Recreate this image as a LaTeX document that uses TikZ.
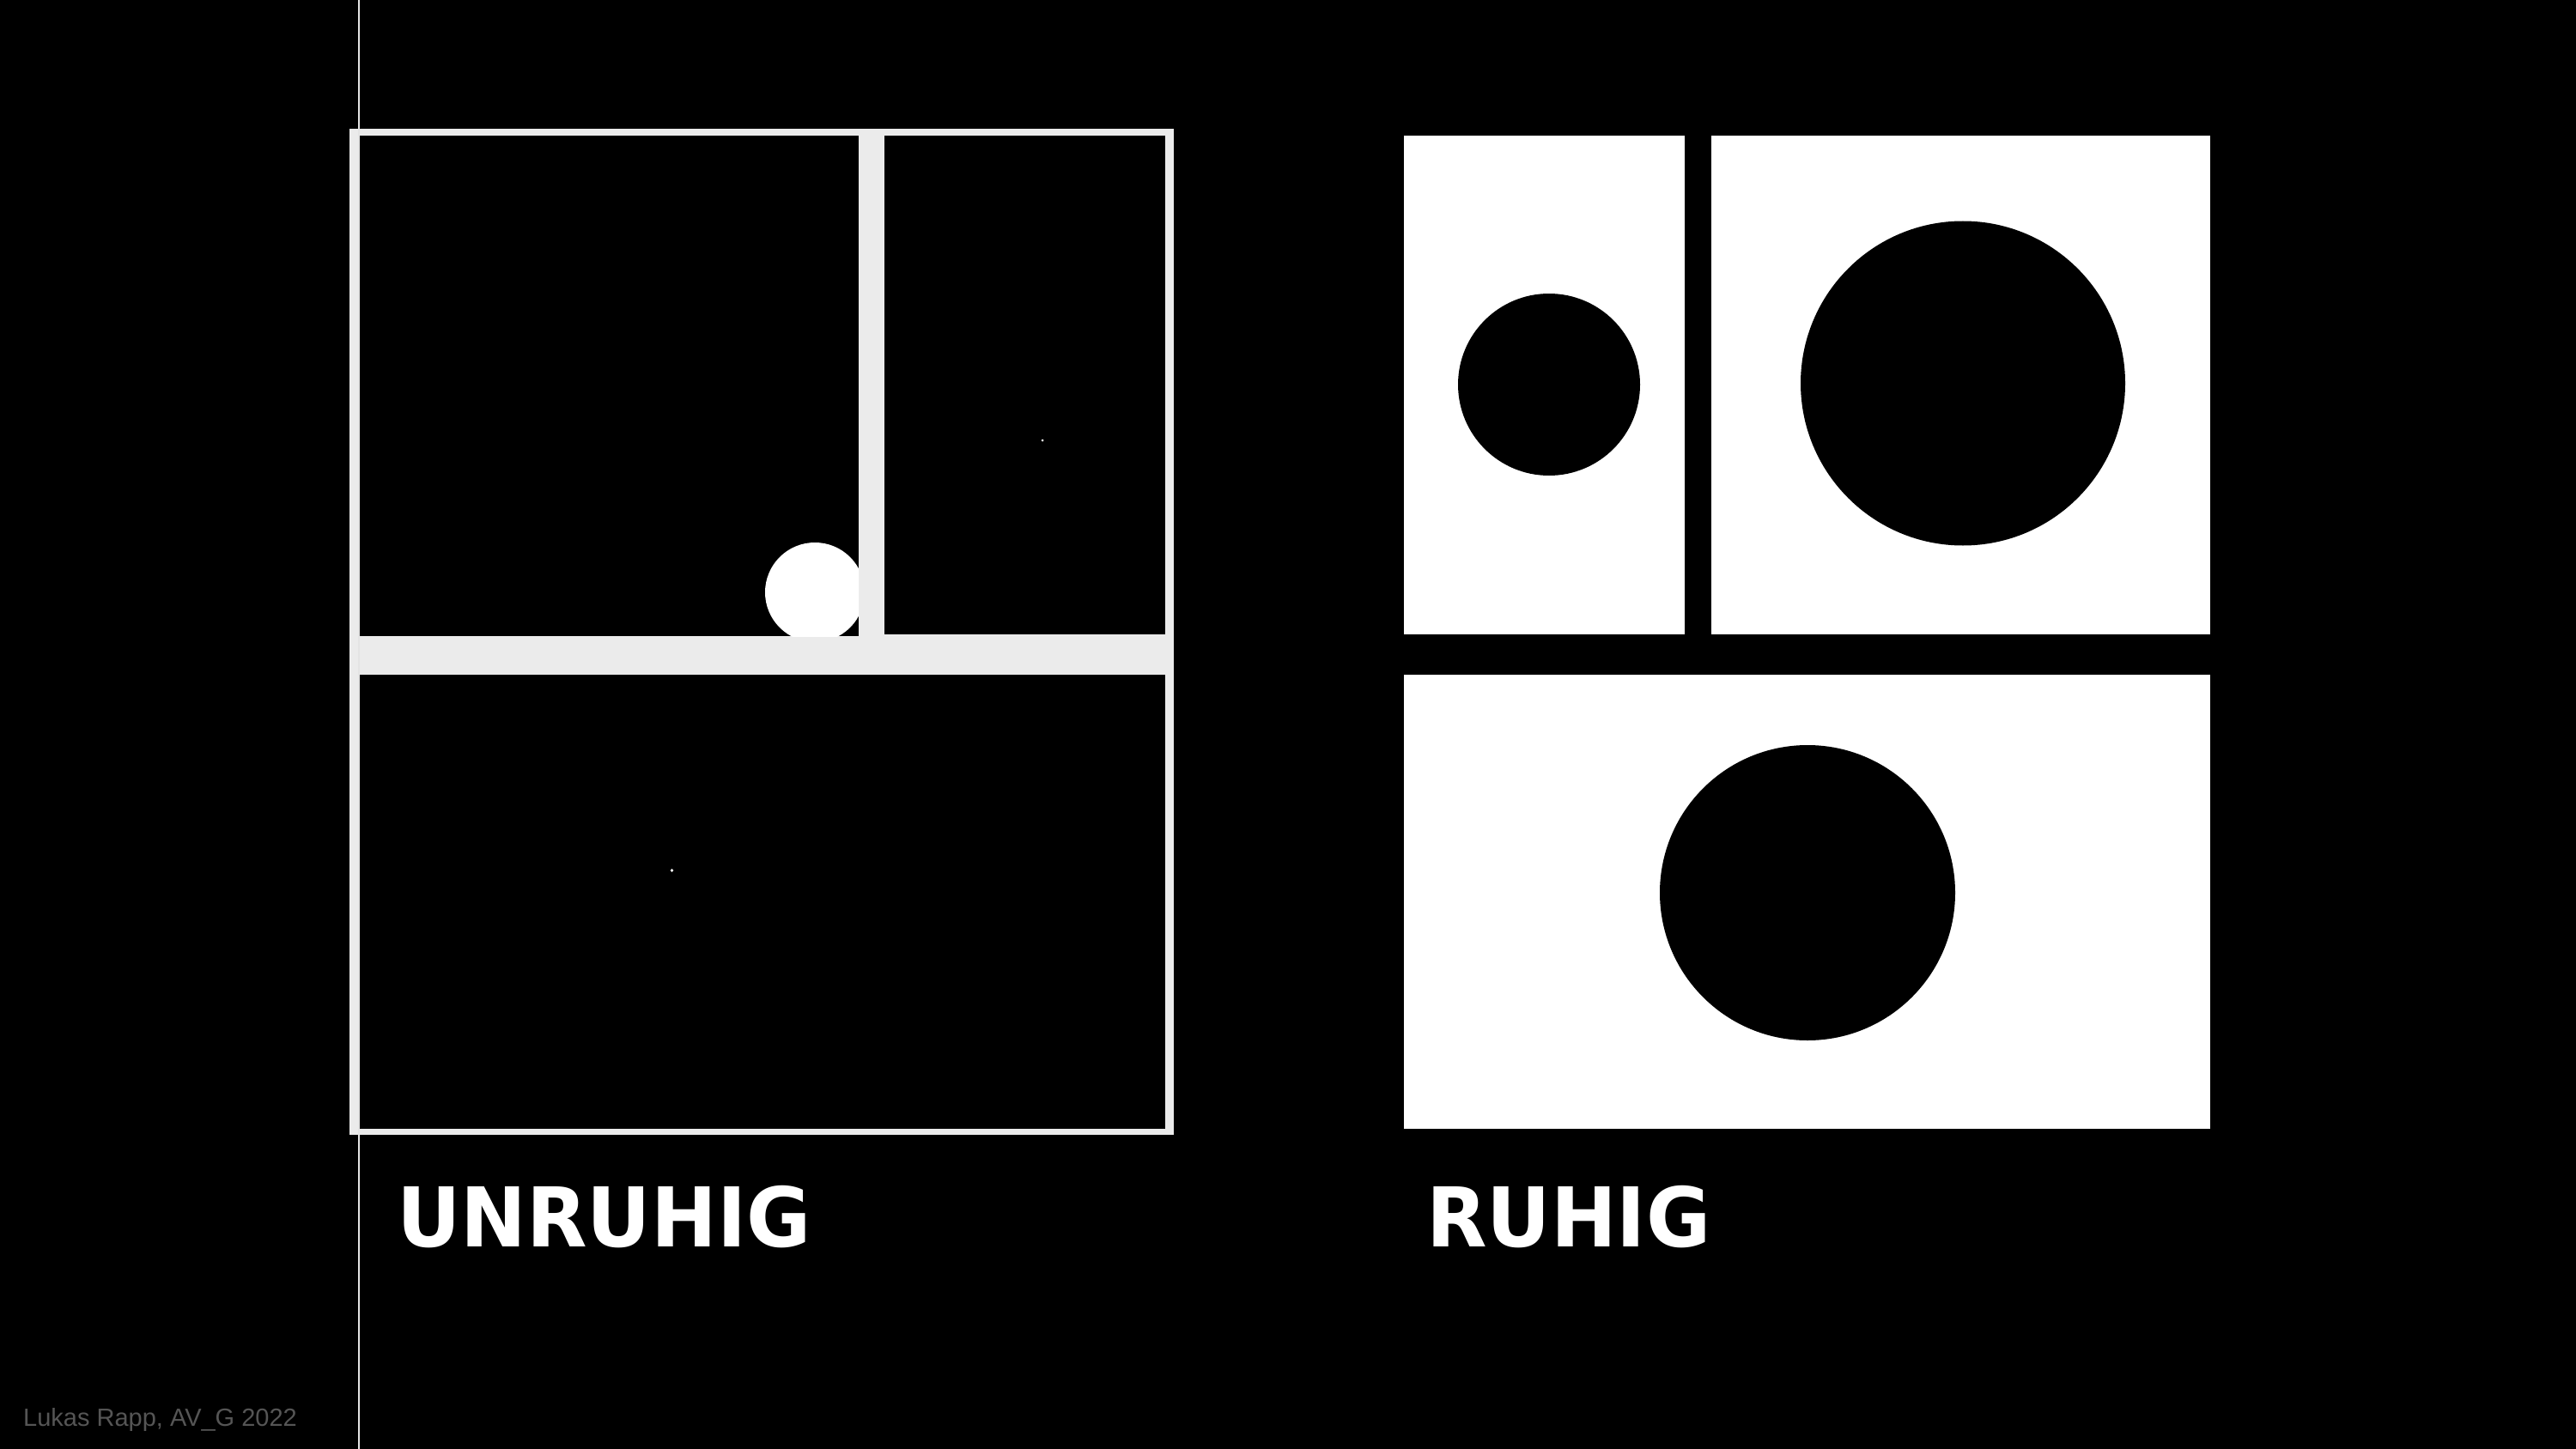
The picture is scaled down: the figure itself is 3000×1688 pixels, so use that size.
\documentclass[tikz,border=0pt]{standalone}
\usepackage{fontspec}
\newfontfamily\labelfont{DejaVu Sans}[BoldFont={DejaVu Sans Bold}]
\newfontfamily\creditfont{Liberation Sans}
\definecolor{framegrey}{HTML}{EBEBEB}
\definecolor{linegrey}{HTML}{E4E4E4}
\definecolor{creditgrey}{HTML}{555555}
\tikzset{
  bigtitle/.style={anchor=base west, inner sep=0pt, text=white, font=\labelfont\bfseries\fontsize{96}{96}\selectfont, xscale=0.955},
  credit/.style={anchor=base west, inner sep=0pt, text=creditgrey, font=\creditfont\fontsize{29}{30}\selectfont},
  blackfill/.style={fill=black},
  whitefill/.style={fill=white},
}
\begin{document}
\begin{tikzpicture}[x=1pt,y=-1pt]
\useasboundingbox (0,0) rectangle (3000,1688);
\fill[black] (0,0) rectangle (3000,1688);

% ---------- left panel (UNRUHIG) ----------
\fill[framegrey] (407,150) rectangle (1367,1322);
\fill[blackfill] (419,158) rectangle (1000,741);
\fill[blackfill] (1030,158) rectangle (1357,739);
\fill[blackfill] (419,786) rectangle (1357,1315);
\begin{scope}
  \clip (419,158) rectangle (1000,741);
  \fill[whitefill] (949,690) circle[radius=58];
\end{scope}
\fill[white] (1214,513) circle[radius=1.5];
\fill[white] (782.5,1014) circle[radius=1.8];

% vertical guide line
\draw[linegrey, line width=2.5pt] (417.8,0) -- (417.8,1688);

% ---------- right panel (RUHIG) ----------
\fill[whitefill] (1635,158) rectangle (1962,739);
\fill[whitefill] (1993,158) rectangle (2574,739);
\fill[whitefill] (1635,786) rectangle (2574,1315);
\fill[blackfill] (1804,448) circle[radius=106];
\fill[blackfill] (2286,446.5) circle[radius=189];
\fill[blackfill] (2105,1040) circle[radius=172];

% ---------- labels ----------
\node[bigtitle] (unruhig) at (462,1452) {UNRUHIG};
\node[bigtitle] (ruhig) at (1661,1452) {RUHIG};
\node[credit] (creditline) at (27,1661) {Lukas Rapp, AV\_G 2022};
\end{tikzpicture}
\end{document}
